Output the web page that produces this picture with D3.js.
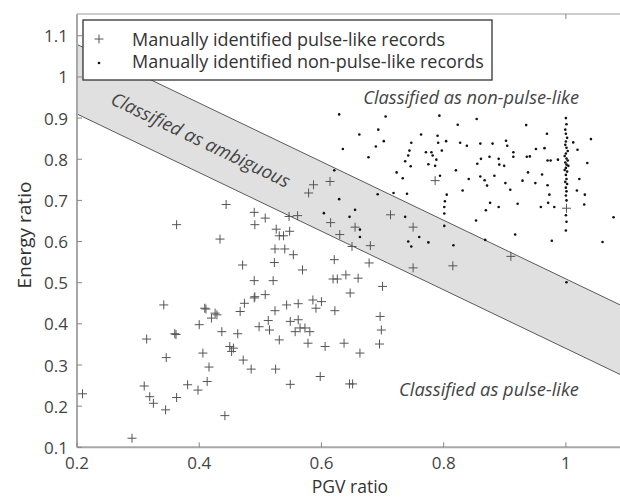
<!DOCTYPE html>
<html><head><meta charset="utf-8">
<script src="https://cdn.jsdelivr.net/npm/d3@7"></script>
<style>body{margin:0;background:#fff}svg{display:block}</style>
</head><body><svg id="c" width="620" height="497"></svg>
<script>
const xTicks = [0.2, 0.4, 0.6, 0.8, 1];
const yTicks = [0.1, 0.2, 0.3, 0.4, 0.5, 0.6, 0.7, 0.8, 0.9, 1, 1.1];
const xTickLabels = ["0.2", "0.4", "0.6", "0.8", "1"];
const yTickLabels = ["0.1", "0.2", "0.3", "0.4", "0.5", "0.6", "0.7", "0.8", "0.9", "1", "1.1"];
const bandUpper = [[0.2, 1.079], [1.1, 0.438]];
const bandLower = [[0.2, 0.910], [1.1, 0.269]];
const pulseLike = [
 [0.471,0.543],[0.523,0.549],[0.554,0.568],[0.621,0.556],[0.569,0.531],[0.490,0.505],[0.521,0.505],[0.619,0.509],[0.626,0.509],[0.640,0.519],
 [0.660,0.511],[0.647,0.475],[0.342,0.446],[0.490,0.463],[0.508,0.471],[0.474,0.450],[0.467,0.430],[0.409,0.438],[0.411,0.436],[0.426,0.426],
 [0.429,0.422],[0.420,0.414],[0.400,0.398],[0.437,0.381],[0.463,0.376],[0.360,0.376],[0.362,0.374],[0.314,0.363],[0.346,0.318],[0.406,0.329],
 [0.416,0.295],[0.413,0.260],[0.381,0.252],[0.398,0.239],[0.363,0.221],[0.310,0.249],[0.319,0.223],[0.325,0.207],[0.345,0.191],[0.442,0.177],
 [0.290,0.122],[0.209,0.230],[0.450,0.345],[0.456,0.341],[0.453,0.333],[0.472,0.312],[0.485,0.290],[0.498,0.393],[0.513,0.408],[0.515,0.385],
 [0.524,0.432],[0.531,0.361],[0.525,0.290],[0.543,0.446],[0.562,0.449],[0.549,0.406],[0.562,0.410],[0.557,0.381],[0.565,0.390],[0.573,0.390],
 [0.581,0.381],[0.578,0.353],[0.549,0.253],[0.586,0.458],[0.591,0.438],[0.600,0.454],[0.622,0.432],[0.606,0.345],[0.598,0.272],[0.637,0.353],
 [0.646,0.254],[0.651,0.254],[0.663,0.329],
 [0.444,0.690],[0.363,0.641],[0.434,0.606],[0.490,0.671],[0.508,0.657],[0.491,0.641],[0.526,0.630],[0.547,0.661],[0.561,0.663],[0.531,0.614],
 [0.538,0.614],[0.548,0.625],[0.524,0.582],[0.540,0.582],[0.491,0.466],[0.587,0.738],[0.579,0.718],
 [0.614,0.746],[0.786,0.748],[0.713,0.665],[0.615,0.646],[0.655,0.635],[0.750,0.635],[0.630,0.617],[0.650,0.588],[0.680,0.590],[0.910,0.564],
 [0.815,0.541],[0.750,0.536],[0.678,0.548],[0.700,0.491],[0.696,0.418],[1.001,0.681],[0.695,0.351],[0.698,0.385]
];
const nonPulseLike = [
 [0.629,0.909],[0.705,0.904],[0.793,0.906],[0.854,0.898],[0.823,0.884],[0.935,0.883],[0.662,0.860],[0.693,0.872],[0.763,0.860],[0.790,0.857],
 [0.969,0.862],[1.041,0.849],[0.635,0.825],[0.689,0.831],[0.702,0.844],[0.747,0.840],[0.804,0.844],[0.827,0.840],[0.838,0.833],[0.860,0.838],
 [0.880,0.838],[0.902,0.845],[0.904,0.833],[0.791,0.840],[0.677,0.805],[0.744,0.821],[0.742,0.809],[0.771,0.817],[0.780,0.817],[0.782,0.809],
 [0.797,0.821],[0.737,0.795],[0.746,0.783],[0.775,0.788],[0.786,0.784],[0.788,0.799],[0.861,0.801],[0.875,0.806],[0.890,0.801],[0.914,0.817],
 [0.914,0.806],[0.936,0.806],[0.941,0.807],[0.951,0.825],[0.965,0.827],[0.970,0.797],[0.975,0.797],[0.987,0.799],[1.012,0.841],[1.019,0.823],
 [1.035,0.791],[0.723,0.768],[0.733,0.754],[0.820,0.773],[0.841,0.752],[0.855,0.789],[0.860,0.758],[0.867,0.749],[0.871,0.736],[0.883,0.760],
 [0.891,0.787],[0.899,0.784],[0.901,0.742],[0.909,0.726],[0.929,0.748],[0.938,0.768],[0.950,0.742],[0.961,0.763],[0.970,0.737],[0.973,0.714],
 [0.959,0.684],[0.971,0.694],[0.981,0.684],[1.022,0.752],[1.018,0.724],[1.031,0.714],[1.030,0.690],[0.831,0.724],[0.794,0.760],[0.621,0.773],
 [0.692,0.715],[0.718,0.718],[0.740,0.716],[0.805,0.714],[0.802,0.698],[0.801,0.684],[0.801,0.668],[0.869,0.676],[0.876,0.694],[0.890,0.684],
 [0.921,0.692],[0.629,0.703],[0.655,0.677],[0.604,0.669],[0.646,0.660],[0.663,0.629],[0.663,0.611],[0.737,0.660],[0.801,0.638],[0.853,0.651],
 [0.760,0.611],[0.775,0.598],[0.742,0.600],[0.747,0.588],[0.816,0.591],[0.868,0.604],[0.917,0.617],[0.977,0.602],[1.060,0.599],[1.078,0.659],
 [1.001,0.501],
 [1.000,0.900],[1.001,0.885],[0.999,0.872],[1.000,0.862],[1.002,0.852],[1.000,0.843],[0.999,0.835],[1.001,0.828],[1.003,0.820],[1.000,0.814],
 [0.998,0.808],[1.001,0.802],[1.003,0.797],[0.999,0.792],[1.001,0.787],[1.004,0.784],[1.000,0.779],[0.998,0.774],[1.002,0.770],[1.000,0.762],
 [1.001,0.752],[0.999,0.745],[1.002,0.740],[1.000,0.731],[1.001,0.722],[1.000,0.712],[1.001,0.700],[1.000,0.664],[1.001,0.648],[1.000,0.627]
];
const legendLabels = ["Manually identified pulse-like records", "Manually identified non-pulse-like records"];

(function () {
const svg = d3.select("#c");
const pL = 77, pR = 627, pT = 14, pB = 447.3;
const x = d3.scaleLinear().domain([0.2, 1.1]).range([pL, pR]);
const y = d3.scaleLinear().domain([0.1, 1.153]).range([pB, pT]);
const font = "'Open Sans', 'Noto Sans', sans-serif";
const axisColor = "#a8a8a8";
function fitWidth(sel, target) {
  const fs = +sel.attr("font-size");
  const w = sel.node().getComputedTextLength();
  sel.attr("font-size", fs * target / w);
}

svg.append("defs").append("clipPath").attr("id","plot")
  .append("rect").attr("x", pL).attr("y", pT).attr("width", pR-pL).attr("height", pB-pT);

const g = svg.append("g").attr("clip-path","url(#plot)");

// ambiguous band
const bandPoly = bandUpper.concat(bandLower.slice().reverse());
g.append("path")
  .attr("d", d3.line().x(d=>x(d[0])).y(d=>y(d[1]))(bandPoly) + "Z")
  .attr("fill", "#e0e0e0").attr("stroke", "none");
[bandUpper, bandLower].forEach(l => g.append("path")
  .attr("d", d3.line().x(d=>x(d[0])).y(d=>y(d[1]))(l))
  .attr("fill","none").attr("stroke","#5a5a5a").attr("stroke-width",1));

// band annotation
const angle = Math.atan2(y(bandLower[1][1]) - y(bandLower[0][1]), x(bandLower[1][0]) - x(bandLower[0][0])) * 180 / Math.PI;
const amb = g.append("text").attr("transform", `translate(201,139) rotate(${angle})`)
  .attr("text-anchor","middle").attr("dominant-baseline","central")
  .attr("font-family", font).attr("font-style","italic").attr("font-size", 15)
  .attr("fill","#444").text("Classified as ambiguous");
fitWidth(amb, 196);

// pulse-like: plus markers
const s = 4.5;
g.append("g").selectAll("path").data(pulseLike).join("path")
  .attr("d", d => `M${x(d[0])-s},${y(d[1])}H${x(d[0])+s}M${x(d[0])},${y(d[1])-s}V${y(d[1])+s}`)
  .attr("stroke", "#555").attr("stroke-width", 1).attr("fill","none");

// non-pulse-like: dots
g.append("g").selectAll("circle").data(nonPulseLike).join("circle")
  .attr("cx", d => x(d[0])).attr("cy", d => y(d[1])).attr("r", 1.3).attr("fill", "#111");

// axes frame
svg.append("line").attr("x1", pL).attr("x2", pR).attr("y1", pB).attr("y2", pB)
  .attr("stroke", axisColor).attr("stroke-width", 2);
svg.append("line").attr("x1", pL).attr("x2", pL).attr("y1", pT).attr("y2", pB)
  .attr("stroke", axisColor).attr("stroke-width", 2);
svg.append("line").attr("x1", pL).attr("x2", pR).attr("y1", pT).attr("y2", pT)
  .attr("stroke", "#bbb").attr("stroke-width", 1.5);

// ticks
svg.append("g").selectAll("line").data(xTicks).join("line")
  .attr("x1", d=>x(d)).attr("x2", d=>x(d)).attr("y1", pB).attr("y2", pB-5)
  .attr("stroke", "#888").attr("stroke-width", 1);
svg.append("g").selectAll("line").data(xTicks.filter(d => x(d) > 500)).join("line")
  .attr("x1", d=>x(d)).attr("x2", d=>x(d)).attr("y1", pT).attr("y2", pT+5)
  .attr("stroke", "#888").attr("stroke-width", 1);
svg.append("g").selectAll("line").data(yTicks).join("line")
  .attr("x1", pL).attr("x2", pL+5).attr("y1", d=>y(d)).attr("y2", d=>y(d))
  .attr("stroke", "#888").attr("stroke-width", 1);

svg.append("g").selectAll("text").data(xTicks).join("text")
  .attr("x", d=>x(d)).attr("y", 468.5).attr("text-anchor","middle")
  .attr("font-family", font).attr("font-size", 17).attr("fill","#444")
  .text((d,i)=>xTickLabels[i]);
svg.append("g").selectAll("text").data(yTicks).join("text")
  .attr("x", 68).attr("y", d=>y(d)).attr("text-anchor","end").attr("dominant-baseline","central")
  .attr("font-family", font).attr("font-size", 17).attr("fill","#444")
  .text((d,i)=>yTickLabels[i]);

// axis titles
svg.append("text").attr("x", 350).attr("y", 492.5).attr("text-anchor","middle")
  .attr("font-family", font).attr("font-size", 17.5).attr("fill","#333").text("PGV ratio");
svg.append("text").attr("transform","translate(31,235) rotate(-90)").attr("text-anchor","middle")
  .attr("font-family", font).attr("font-size", 19).attr("fill","#333").text("Energy ratio");

// region annotations
const t1 = svg.append("text").attr("x", 579).attr("y", 104).attr("text-anchor","end")
  .attr("font-family", font).attr("font-style","italic").attr("font-size", 15).attr("fill","#444")
  .text("Classified as non-pulse-like");
fitWidth(t1, 216);
const t2 = svg.append("text").attr("x", 579).attr("y", 396).attr("text-anchor","end")
  .attr("font-family", font).attr("font-style","italic").attr("font-size", 15).attr("fill","#444")
  .text("Classified as pulse-like");
fitWidth(t2, 180);

// legend
const lg = svg.append("g");
lg.append("rect").attr("x", 83).attr("y", 20).attr("width", 409).attr("height", 60)
  .attr("fill", "#fff").attr("stroke", "#333").attr("stroke-width", 1.3);
lg.append("path").attr("d", `M${99-s},39H${99+s}M99,${39-s}V${39+s}`).attr("stroke","#555").attr("stroke-width",1);
lg.append("circle").attr("cx", 99).attr("cy", 63).attr("r", 1.3).attr("fill","#111");
const lt = lg.selectAll("text.l").data(legendLabels).join("text").attr("class","l")
  .attr("x", 132).attr("y", (d,i)=> i ? 68 : 46)
  .attr("font-family", font).attr("font-size", 15).attr("fill","#333").text(d=>d);
const w2 = lt.nodes()[1].getComputedTextLength();
lt.attr("font-size", 15 * 352 / w2);
})();
</script></body></html>
